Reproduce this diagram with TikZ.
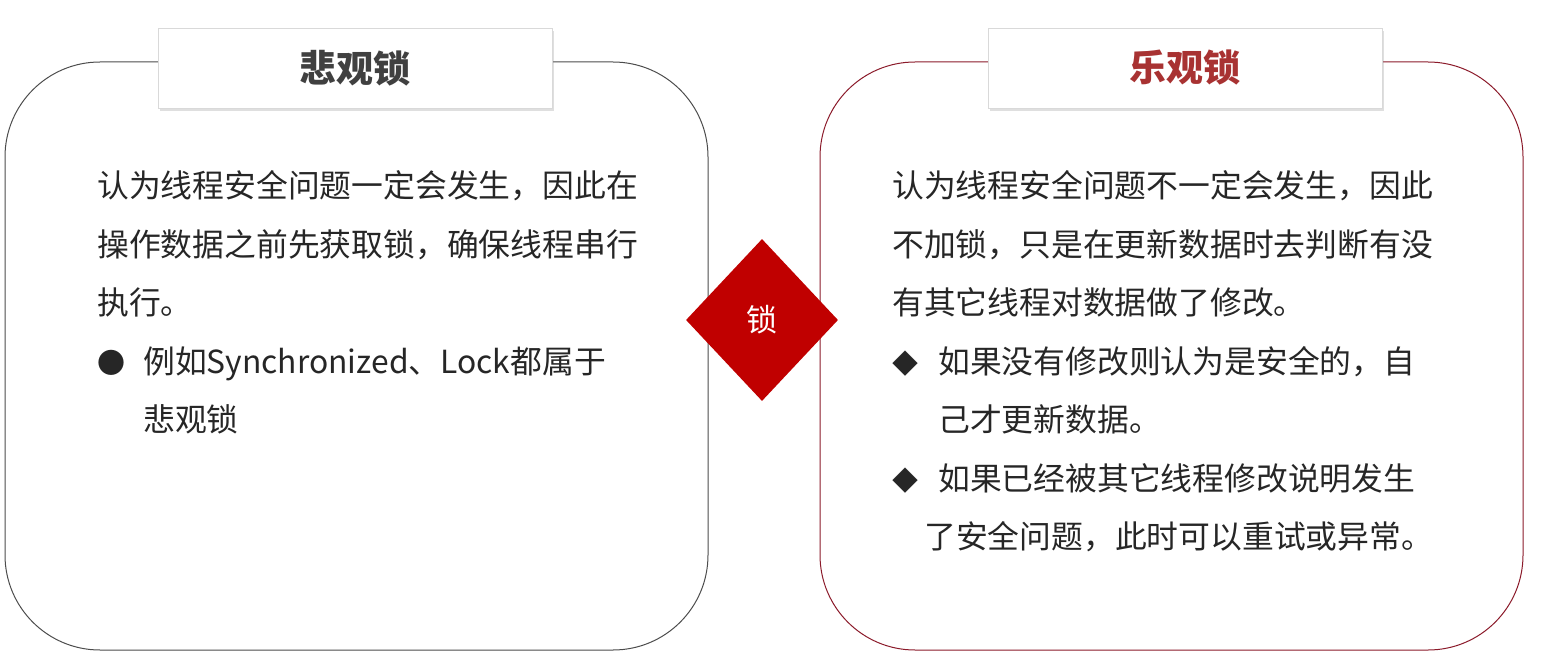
\documentclass[tikz,border=0pt]{standalone}
\usepackage{fontspec}
\setmainfont{Noto Sans CJK SC}
\usetikzlibrary{shapes.geometric,shadows}
\definecolor{dred}{HTML}{8B1A2A}
\definecolor{lred}{HTML}{C00000}
\definecolor{ttl}{HTML}{404040}
\definecolor{ttr}{HTML}{A83232}
\tikzset{
 panel/.style={rounded corners=95pt,line width=1pt},
 tbox/.style={draw=gray!30,fill=white,minimum width=394pt,minimum height=80pt,inner sep=0pt,font=\fontsize{37}{37}\selectfont\bfseries,drop shadow={shadow xshift=2pt,shadow yshift=-3pt,opacity=0.25}},
 ln/.style={anchor=base west,inner sep=0pt,font=\fontsize{31.8}{31.8}\selectfont,text=black!85}
}
\begin{document}
\begin{tikzpicture}[x=1pt,y=-1pt]
\useasboundingbox (0,0) rectangle (1544,671);
\draw[panel,draw=black!70] (5,62) rectangle (708,650);
\draw[panel,draw=dred] (820,62) rectangle (1523,650);
\node[tbox,text=ttl] (tl) at (355,68) {悲观锁};
\node[tbox,text=ttr] (tr) at (1185,68) {乐观锁};
\node[diamond,fill=lred,minimum width=152pt,minimum height=162pt,inner sep=0pt,text=white,font=\fontsize{31}{31}\selectfont] (d) at (762,320) {锁};
\node[ln] (l1) at (97,198) {认为线程安全问题一定会发生，因此在};
\node[ln] (l2) at (97,256) {操作数据之前先获取锁，确保线程串行};
\node[ln] (l3) at (97,314) {执行。};
\node[ln,font=\fontsize{28}{28}\selectfont] (l4) at (97,373) {●};
\node[ln] (l5) at (143,373) {例如Synchronized、Lock都属于};
\node[ln] (l6) at (143,431) {悲观锁};
\node[ln] (r1) at (892,198) {认为线程安全问题不一定会发生，因此};
\node[ln] (r2) at (892,256) {不加锁，只是在更新数据时去判断有没};
\node[ln] (r3) at (892,314) {有其它线程对数据做了修改。};
\node[ln,font=\fontsize{26}{26}\selectfont] (r4) at (892,373) {◆};
\node[ln] (r5) at (938,373) {如果没有修改则认为是安全的，自};
\node[ln] (r6) at (938,431) {己才更新数据。};
\node[ln,font=\fontsize{26}{26}\selectfont] (r7) at (892,490) {◆};
\node[ln] (r8) at (938,490) {如果已经被其它线程修改说明发生};
\node[ln] (r9) at (924,548) {了安全问题，此时可以重试或异常。};
\end{tikzpicture}
\end{document}
